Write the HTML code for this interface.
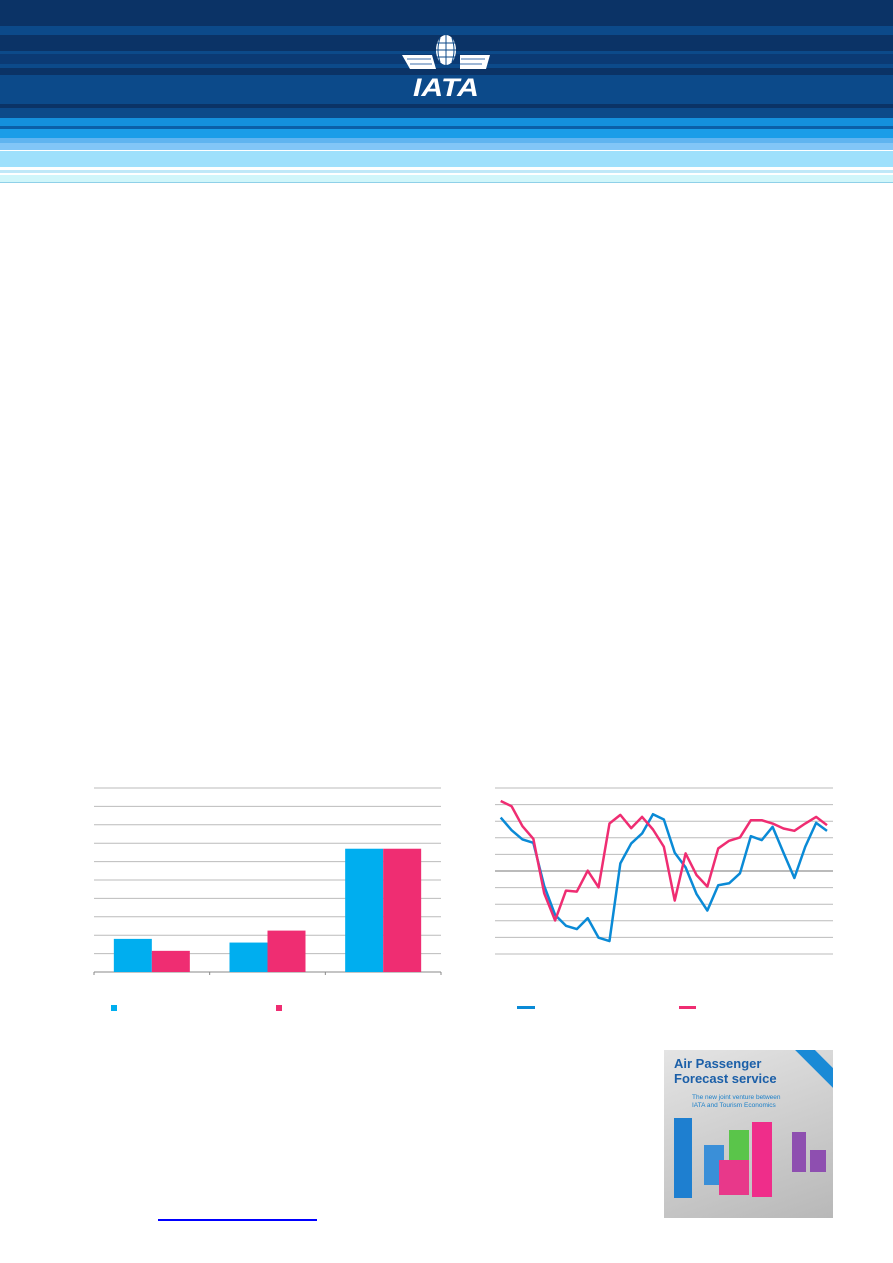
<!DOCTYPE html>
<html><head><meta charset="utf-8"><style>
body{margin:0;width:893px;height:1263px;background:#fff;position:relative;overflow:hidden;font-family:"Liberation Sans",sans-serif}
.a{position:absolute}
</style></head><body>
<div class="a" style="left:0;top:0;width:893px;height:190px;background:linear-gradient(#0b3366 0 26px,#0c4a8a 26px 35px,#0b3366 35px 51px,#0c4a8a 51px 54px,#0b3a74 54px 64px,#0c4a8a 64px 68px,#0b3366 68px 75px,#0c4a8a 75px 104px,#0b3366 104px 108px,#0c4a8a 108px 110px,#0c4a8a 110px 118px,#1490dd 118px 126px,#0b5fa8 126px 129px,#1a9de8 129px 138px,#5fb4f0 138px 143px,#82c6f7 143px 150px,#fff 150px 151px,#9ee0fc 151px 167px,#fff 167px 170px,#bfe8f8 170px 173px,#fff 173px 175px,#d0f6fa 175px 182px,#8fd0e8 182px 183px,#fff 183px)"></div>
<svg class="a" style="left:398px;top:30px" width="97" height="70">
<ellipse cx="48" cy="20" rx="10" ry="15" fill="#fff"/>
<path d="M38 20h20M48 5v30M42 8q-4 12 0 24M54 8q4 12 0 24M39 13h18M39 27h18" stroke="#0c4a8a" stroke-width="1" fill="none"/>
<path d="M4 25h30l4 14h-26z M62 25h30l-4 14h-26z" fill="#fff"/>
<path d="M9 29h24M63 29h24M12 34h22M62 34h22" stroke="#7f9fc8" stroke-width="1.5"/>
<text x="48" y="66" fill="#fff" font-size="25" font-weight="bold" font-style="italic" text-anchor="middle" font-family="Liberation Sans" textLength="66" lengthAdjust="spacingAndGlyphs">IATA</text>
</svg>

<svg class="a" style="left:0;top:0" width="893" height="1263" id="bar"></svg>
<svg class="a" style="left:0;top:0" width="893" height="1263" id="line"></svg>

<div class="a" style="left:111px;top:1005px;width:6px;height:6px;background:#00aeef"></div>
<div class="a" style="left:276px;top:1005px;width:6px;height:6px;background:#ef2d72"></div>
<div class="a" style="left:517px;top:1006px;width:18px;height:3px;background:#0a8ad6"></div>
<div class="a" style="left:679px;top:1006px;width:17px;height:3px;background:#ef2d72"></div>
<div class="a" style="left:158px;top:1219px;width:159px;height:2px;background:#00f"></div>

<div class="a" style="left:664px;top:1050px;width:169px;height:168px;background:linear-gradient(160deg,#e4e4e4,#b8b8b8);overflow:hidden">
<div style="position:absolute;left:10px;top:6px;color:#1b5fa8;font-size:13px;font-weight:bold;line-height:15px">Air Passenger<br>Forecast service</div>
<div style="position:absolute;left:28px;top:44px;color:#1b7fc8;font-size:6.5px;line-height:8px">The new joint venture between<br>IATA and Tourism Economics</div>
<div style="position:absolute;right:-18px;top:4px;width:70px;height:14px;background:#1a8ad6;transform:rotate(45deg)"></div>
<div style="position:absolute;left:10px;top:68px;width:18px;height:80px;background:#1e7fd0"></div>
<div style="position:absolute;left:40px;top:95px;width:20px;height:40px;background:#3a8fd8"></div>
<div style="position:absolute;left:65px;top:80px;width:20px;height:40px;background:#5ac54a"></div>
<div style="position:absolute;left:55px;top:110px;width:30px;height:35px;background:#e8388a"></div>
<div style="position:absolute;left:88px;top:72px;width:20px;height:75px;background:#ef2d8a"></div>
<div style="position:absolute;left:128px;top:82px;width:14px;height:40px;background:#8e4fb0"></div>
<div style="position:absolute;left:146px;top:100px;width:16px;height:22px;background:#8e4fb0"></div>
</div>

<script>
const barCats=['A','B','C'];
const barBlue=[1.8,1.6,6.7];
const barPink=[1.15,2.25,6.7];
const barTicks=[0,1,2,3,4,5,6,7,8,9,10];
const lineBlue=[3.22,2.46,1.9,1.7,-0.9,-2.64,-3.3,-3.5,-2.84,-4.02,-4.22,0.46,1.66,2.26,3.42,3.1,1.1,0.22,-1.38,-2.38,-0.86,-0.74,-0.14,2.1,1.86,2.66,1.1,-0.42,1.46,2.9,2.42];
const linePink=[4.22,3.9,2.7,1.94,-1.34,-2.98,-1.18,-1.24,0.02,-0.98,2.86,3.38,2.58,3.26,2.5,1.46,-1.78,1.06,-0.24,-0.94,1.36,1.82,2.02,3.06,3.06,2.86,2.56,2.42,2.86,3.26,2.76];
const lineTicks=[-5,-4,-3,-2,-1,0,1,2,3,4,5];
const NS='http://www.w3.org/2000/svg';
function mk(p,t,a){const e=document.createElementNS(NS,t);for(const k in a)e.setAttribute(k,a[k]);p.appendChild(e);return e;}
const bs=document.getElementById('bar');
const bx0=94,bx1=441,by0=972,by1=788;
const byS=v=>by0-(v/10)*(by0-by1);
barTicks.forEach(t=>{if(t>0){const l=mk(bs,'line',{x1:bx0,x2:bx1,y1:byS(t),y2:byS(t),stroke:'#bbb','stroke-width':1});

}});
mk(bs,'line',{x1:bx0,x2:bx1,y1:by0,y2:by0,stroke:'#888','stroke-width':1});
const gw=(bx1-bx0)/barCats.length;
barCats.forEach((c,i)=>{
 mk(bs,'line',{x1:bx0+i*gw,x2:bx0+i*gw,y1:by0,y2:by0+3,stroke:'#888'});
 const cx=bx0+gw*i+gw/2;
 const b1=mk(bs,'rect',{x:cx-38,y:byS(barBlue[i]),width:38,height:by0-byS(barBlue[i]),fill:'#00aeef'});
 
 
 const b2=mk(bs,'rect',{x:cx,y:byS(barPink[i]),width:38,height:by0-byS(barPink[i]),fill:'#ef2d72'});
 
 
});
mk(bs,'line',{x1:bx1,x2:bx1,y1:by0,y2:by0+3,stroke:'#888'});
const ls=document.getElementById('line');
const lx0=495,lx1=833,ly0=871,lu=16.6;
const lyS=v=>ly0-v*lu;
const lxS=i=>500.7+i*(827-500.7)/(lineBlue.length-1);
lineTicks.forEach(t=>{const l=mk(ls,'line',{x1:lx0,x2:lx1,y1:lyS(t),y2:lyS(t),stroke:t==0?'#777':'#bbb','stroke-width':1});

});
[[lineBlue,'#0a8ad6','series-blue'],[linePink,'#ef2d72','series-pink']].forEach(([d,c,n])=>{
 const p=mk(ls,'polyline',{points:d.map((v,i)=>lxS(i)+','+lyS(v)).join(' '),fill:'none',stroke:c,'stroke-width':2.5,'stroke-linejoin':'round'});
 
 
});
</script>
</body></html>
